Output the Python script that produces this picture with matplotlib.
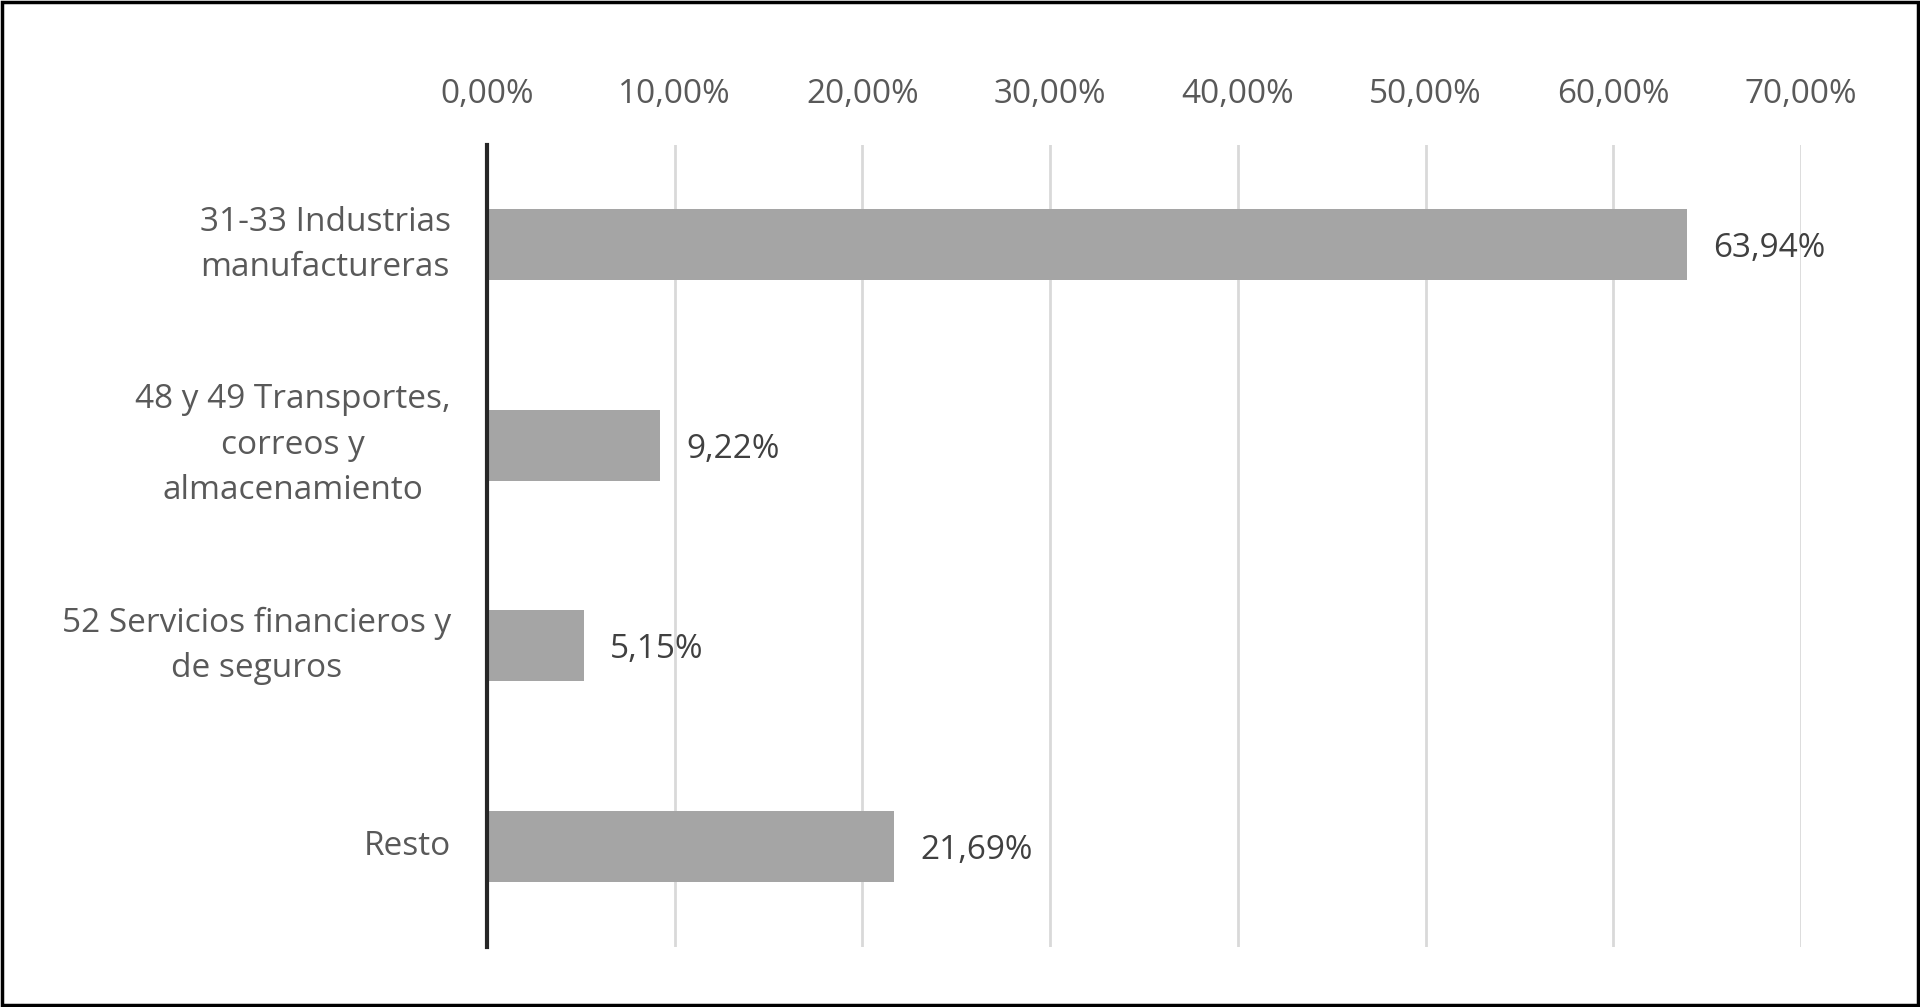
import matplotlib
matplotlib.use('Agg')
import matplotlib.pyplot as plt
from matplotlib.patches import Rectangle
from matplotlib.ticker import FuncFormatter

# data
categorias = ['31-33 Industrias\nmanufactureras',
              '48 y 49 Transportes,\ncorreos y\nalmacenamiento',
              '52 Servicios financieros y\nde seguros',
              'Resto']
porcentajes = [63.94, 9.22, 5.15, 21.69]
ticks_x = [0, 10, 20, 30, 40, 50, 60, 70]

plt.rcParams['font.family'] = ['Open Sans', 'DejaVu Sans']

fig = plt.figure(figsize=(19.2, 10.07), dpi=100)
ax = fig.add_axes([0.2536, 0.06, 0.9380 - 0.2536, 0.8565 - 0.06])

pos = list(range(len(categorias)))
ax.barh(pos, porcentajes, height=0.355, color='#A5A5A5', zorder=3)

ax.set_ylim(len(categorias) - 0.5, -0.5)
ax.set_xlim(0, 70)
ax.set_xticks(ticks_x)
ax.xaxis.set_major_formatter(FuncFormatter(lambda v, p: f'{v:.2f}%'.replace('.', ',')))
ax.xaxis.tick_top()
ax.tick_params(axis='x', length=0, pad=24, labelsize=24, labelcolor='#595959')
ax.set_yticks(pos)
ax.set_yticklabels(categorias, fontsize=24, color='#595959', linespacing=1.5,
                   multialignment='center', va='center')
ax.tick_params(axis='y', length=0, pad=26)

ax.grid(axis='x', color='#D9D9D9', linewidth=2, zorder=0)
for s in ['top', 'right', 'bottom']:
    ax.spines[s].set_visible(False)
ax.spines['left'].set_color('#262626')
ax.spines['left'].set_linewidth(3)
ax.spines['left'].set_zorder(4)

# data labels
for y, v in zip(pos, porcentajes):
    ax.annotate(f'{v:.2f}%'.replace('.', ','), xy=(v, y), xytext=(19, -3),
                textcoords='offset points', va='center', ha='left',
                fontsize=24, color='#404040')

# outer frame
fig.patches.append(Rectangle((0.001, 0.0015), 0.998, 0.997, transform=fig.transFigure,
                             fill=False, edgecolor='black', linewidth=2.5))

fig.savefig('out.png', dpi=100)
